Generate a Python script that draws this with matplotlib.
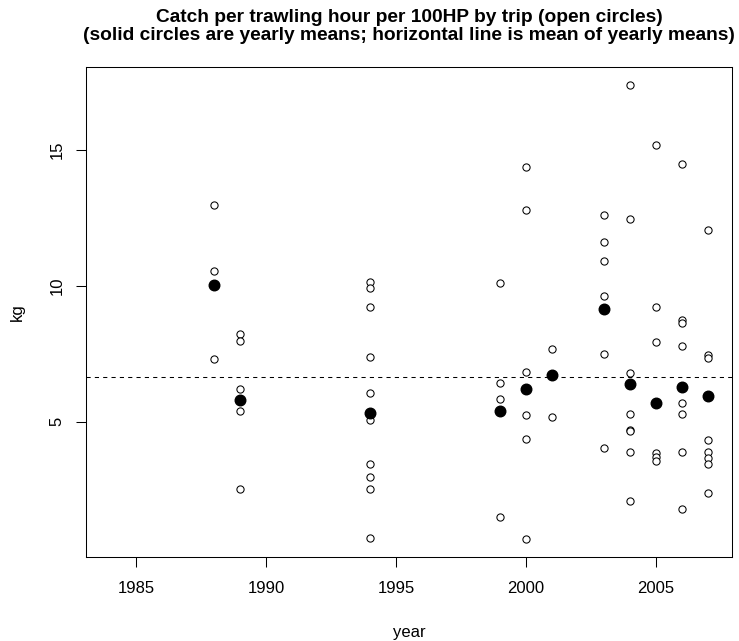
import numpy as np
import matplotlib
matplotlib.use("Agg")
import matplotlib.pyplot as plt

# Data
# ----------
trip_year = [1988, 1988, 1988,
             1989, 1989, 1989, 1989, 1989,
             1994, 1994, 1994, 1994, 1994, 1994, 1994, 1994, 1994, 1994,
             1999, 1999, 1999, 1999,
             2000, 2000, 2000, 2000, 2000, 2000,
             2001, 2001,
             2003, 2003, 2003, 2003, 2003, 2003,
             2004, 2004, 2004, 2004, 2004, 2004, 2004, 2004,
             2005, 2005, 2005, 2005, 2005, 2005,
             2006, 2006, 2006, 2006, 2006, 2006, 2006, 2006,
             2007, 2007, 2007, 2007, 2007, 2007, 2007, 2007]
trip_kg = [12.96, 10.55, 7.30,
           8.21, 7.98, 6.19, 5.41, 2.54,
           10.15, 9.93, 9.23, 7.39, 6.04, 5.08, 3.43, 2.97, 2.52, 0.73,
           10.10, 6.43, 5.82, 1.50,
           14.36, 12.78, 6.81, 5.24, 4.37, 0.70,
           7.68, 5.19,
           12.59, 11.61, 10.90, 9.61, 7.48, 4.02,
           17.37, 12.44, 6.78, 5.30, 4.69, 4.65, 3.87, 2.09,
           15.18, 9.23, 7.94, 3.85, 3.70, 3.55,
           14.47, 8.74, 8.64, 7.78, 5.67, 5.27, 3.89, 1.79,
           12.06, 7.46, 7.35, 4.32, 3.89, 3.68, 3.46, 2.36]

mean_year = [1988, 1989, 1994, 1999, 2000, 2001, 2003, 2004, 2005, 2006, 2007]
mean_kg = [10.04, 5.80, 5.33, 5.40, 6.19, 6.70, 9.13, 6.38, 5.70, 6.26, 5.95]

xticks = [1985, 1990, 1995, 2000, 2005]
yticks = [5, 10, 15]
# ----------

plt.rcParams['font.family'] = ['Liberation Sans', 'DejaVu Sans']

fig = plt.figure(figsize=(7.39, 6.41), dpi=100, facecolor='white')
ax = fig.add_axes([86/739, 1 - 556.7/641, (732 - 86)/739, (556.7 - 67.3)/641])

# trips: open circles
ax.plot(trip_year, trip_kg, 'o', ls='none', mfc='white', mec='black',
        ms=5.2, mew=0.75)
# yearly means: solid circles
ax.plot(mean_year, mean_kg, 'o', ls='none', color='black', ms=7.6)
# mean of yearly means
ax.axhline(np.mean(mean_kg), color='black', lw=0.75, ls=(0, (4, 4)))

# R style axes: 4% padding around data range
x0, x1 = 1984, 2007
y0, y1 = min(trip_kg), max(trip_kg)
ax.set_xlim(x0 - 0.04*(x1 - x0), x1 + 0.04*(x1 - x0))
ax.set_ylim(y0 - 0.04*(y1 - y0), y1 + 0.04*(y1 - y0))

ax.set_xticks(xticks)
ax.set_yticks(yticks)
ax.tick_params(direction='out', length=7, width=0.75, labelsize=12)
ax.tick_params(axis='x', pad=10.5)
ax.tick_params(axis='y', pad=8.5)
plt.setp(ax.get_yticklabels(), rotation=90, va='center')
for s in ax.spines.values():
    s.set_linewidth(0.75)

ax.set_xlabel('year', fontsize=12, labelpad=21)
ax.set_ylabel('kg', fontsize=12, labelpad=18)

cx = (86 + 732) / 2 / 739
fig.text(cx, 1 - 18/641, 'Catch per trawling hour per 100HP by trip (open circles)',
         ha='center', va='center', fontsize=13.8, fontweight='bold')
fig.text(cx, 1 - 36/641, '(solid circles are yearly means; horizontal line is mean of yearly means)',
         ha='center', va='center', fontsize=13.8, fontweight='bold')

plt.savefig('out.png', dpi=100, facecolor='white')
